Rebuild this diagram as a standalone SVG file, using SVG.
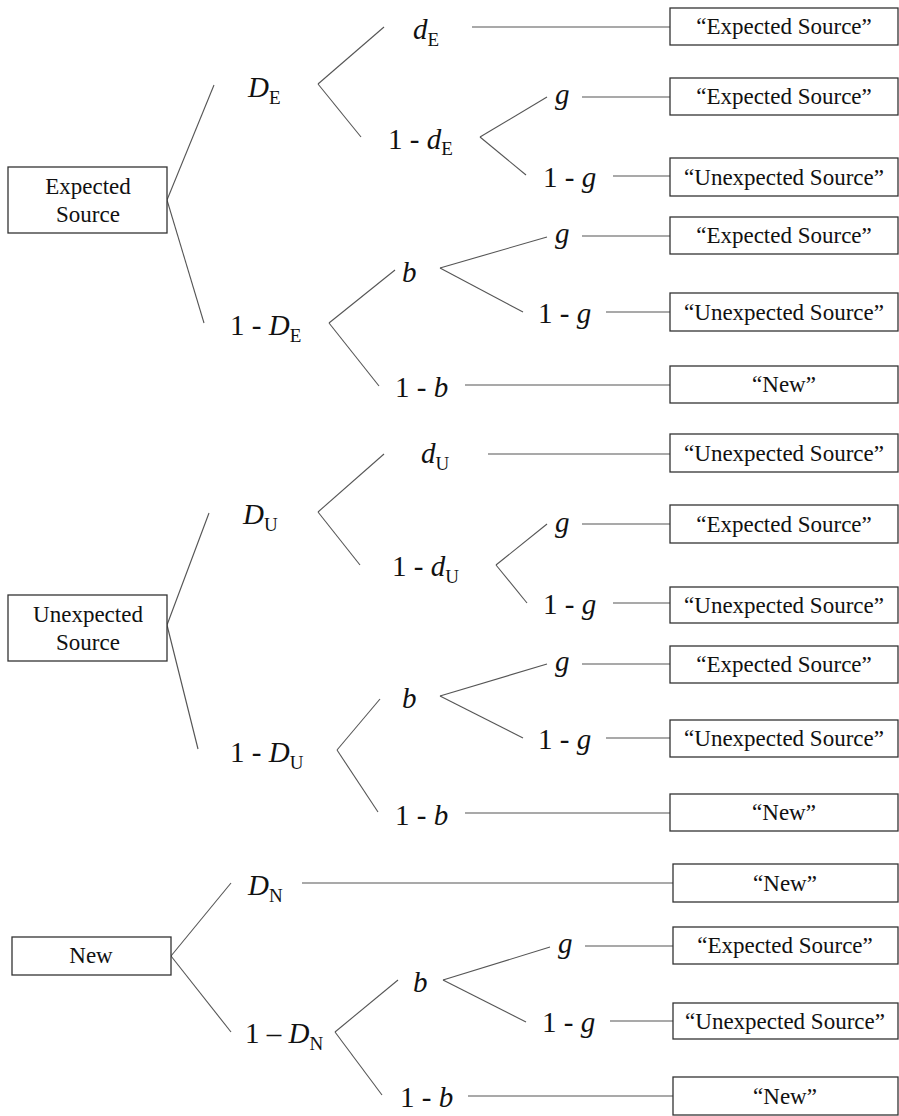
<svg xmlns="http://www.w3.org/2000/svg" width="899" height="1116" viewBox="0 0 899 1116" font-family="Liberation Serif, DejaVu Serif, serif">
<style>
.box{fill:#fff;stroke:#333;stroke-width:1.3}
.bt{font-family:'Liberation Serif','DejaVu Serif',serif;font-size:23px;fill:#111;text-anchor:middle}
.lb{font-family:'Liberation Serif','DejaVu Serif',serif;font-size:29px;fill:#111}
.i{font-style:italic}
.s{font-size:19px}
#connectors line{stroke:#555;stroke-width:1.1}
</style>
<rect width="899" height="1116" fill="#fff"/>
<g id="connectors">
<line x1="167" y1="200" x2="214" y2="85"/>
<line x1="167" y1="200" x2="204" y2="323"/>
<line x1="318" y1="84" x2="384" y2="27"/>
<line x1="318" y1="84" x2="361" y2="137"/>
<line x1="472" y1="27" x2="670" y2="27"/>
<line x1="480" y1="137" x2="547" y2="97"/>
<line x1="480" y1="137" x2="526" y2="175"/>
<line x1="582" y1="97" x2="670" y2="97"/>
<line x1="613" y1="176" x2="670" y2="176"/>
<line x1="329" y1="323" x2="395" y2="270"/>
<line x1="329" y1="323" x2="379" y2="386"/>
<line x1="440" y1="268" x2="547" y2="237"/>
<line x1="440" y1="268" x2="523" y2="312"/>
<line x1="582" y1="236" x2="670" y2="236"/>
<line x1="606" y1="312" x2="670" y2="312"/>
<line x1="465" y1="385" x2="670" y2="385"/>
<line x1="167" y1="625" x2="209" y2="513"/>
<line x1="167" y1="625" x2="198" y2="749"/>
<line x1="318" y1="512" x2="384" y2="454"/>
<line x1="318" y1="512" x2="360" y2="565"/>
<line x1="488" y1="454" x2="670" y2="454"/>
<line x1="496" y1="565" x2="547" y2="524"/>
<line x1="496" y1="565" x2="527" y2="603"/>
<line x1="582" y1="524" x2="670" y2="524"/>
<line x1="613" y1="603" x2="670" y2="603"/>
<line x1="337" y1="750" x2="380" y2="699"/>
<line x1="337" y1="750" x2="378" y2="812"/>
<line x1="440" y1="696" x2="547" y2="664"/>
<line x1="440" y1="696" x2="523" y2="738"/>
<line x1="582" y1="664" x2="670" y2="664"/>
<line x1="606" y1="738" x2="670" y2="738"/>
<line x1="465" y1="813" x2="670" y2="813"/>
<line x1="171" y1="956" x2="231" y2="883"/>
<line x1="171" y1="956" x2="231" y2="1032"/>
<line x1="302" y1="883" x2="673" y2="883"/>
<line x1="335" y1="1032" x2="398" y2="980"/>
<line x1="335" y1="1032" x2="382" y2="1095"/>
<line x1="443" y1="980" x2="550" y2="947"/>
<line x1="443" y1="980" x2="526" y2="1022"/>
<line x1="585" y1="946" x2="673" y2="946"/>
<line x1="610" y1="1021" x2="673" y2="1021"/>
<line x1="468" y1="1096" x2="673" y2="1096"/>
</g>
<g id="root-expected"><rect class="box" x="8" y="167" width="159" height="66"/><text class="bt" x="88" y="194">Expected</text><text class="bt" x="88" y="222">Source</text></g>
<g id="root-unexpected"><rect class="box" x="8" y="595" width="159" height="66"/><text class="bt" x="88" y="622">Unexpected</text><text class="bt" x="88" y="650">Source</text></g>
<g id="root-new"><rect class="box" x="12" y="937" width="159" height="38"/><text class="bt" x="91" y="963">New</text></g>
<g id="lbl-DE"><text class="lb" x="248" y="97"><tspan class="i">D</tspan><tspan class="s" dy="7">E</tspan></text></g>
<g id="lbl-dE"><text class="lb" x="413" y="39"><tspan class="i">d</tspan><tspan class="s" dy="7">E</tspan></text></g>
<g id="lbl-1dE"><text class="lb" x="388" y="149">1 - <tspan class="i">d</tspan><tspan class="s" dy="6">E</tspan></text></g>
<g id="lbl-g1"><text class="lb i" x="555" y="104">g</text></g>
<g id="lbl-1g1"><text class="lb" x="543" y="187">1 - <tspan class="i">g</tspan></text></g>
<g id="lbl-1DE"><text class="lb" x="230" y="335">1 - <tspan class="i">D</tspan><tspan class="s" dy="7">E</tspan></text></g>
<g id="lbl-b1"><text class="lb i" x="402" y="282">b</text></g>
<g id="lbl-g2"><text class="lb i" x="555" y="243">g</text></g>
<g id="lbl-1g2"><text class="lb" x="538" y="323">1 - <tspan class="i">g</tspan></text></g>
<g id="lbl-1b1"><text class="lb" x="395" y="397">1 - <tspan class="i">b</tspan></text></g>
<g id="lbl-DU"><text class="lb" x="243" y="524"><tspan class="i">D</tspan><tspan class="s" dy="7">U</tspan></text></g>
<g id="lbl-dU"><text class="lb" x="421" y="463"><tspan class="i">d</tspan><tspan class="s" dy="7">U</tspan></text></g>
<g id="lbl-1dU"><text class="lb" x="392" y="576">1 - <tspan class="i">d</tspan><tspan class="s" dy="7">U</tspan></text></g>
<g id="lbl-g3"><text class="lb i" x="555" y="532">g</text></g>
<g id="lbl-1g3"><text class="lb" x="543" y="614">1 - <tspan class="i">g</tspan></text></g>
<g id="lbl-1DU"><text class="lb" x="230" y="762">1 - <tspan class="i">D</tspan><tspan class="s" dy="7">U</tspan></text></g>
<g id="lbl-b2"><text class="lb i" x="402" y="708">b</text></g>
<g id="lbl-g4"><text class="lb i" x="555" y="671">g</text></g>
<g id="lbl-1g4"><text class="lb" x="538" y="749">1 - <tspan class="i">g</tspan></text></g>
<g id="lbl-1b2"><text class="lb" x="395" y="825">1 - <tspan class="i">b</tspan></text></g>
<g id="lbl-DN"><text class="lb" x="248" y="895"><tspan class="i">D</tspan><tspan class="s" dy="7">N</tspan></text></g>
<g id="lbl-1DN"><text class="lb" x="245" y="1043">1 – <tspan class="i">D</tspan><tspan class="s" dy="7">N</tspan></text></g>
<g id="lbl-b3"><text class="lb i" x="413" y="992">b</text></g>
<g id="lbl-g5"><text class="lb i" x="558" y="953">g</text></g>
<g id="lbl-1g5"><text class="lb" x="542" y="1032">1 - <tspan class="i">g</tspan></text></g>
<g id="lbl-1b3"><text class="lb" x="400" y="1107">1 - <tspan class="i">b</tspan></text></g>
<g id="out-1"><rect class="box" x="670" y="8" width="228" height="37"/><text class="bt" x="784" y="34">“Expected Source”</text></g>
<g id="out-2"><rect class="box" x="670" y="78" width="228" height="37"/><text class="bt" x="784" y="104">“Expected Source”</text></g>
<g id="out-3"><rect class="box" x="670" y="158" width="228" height="38"/><text class="bt" x="784" y="185">“Unexpected Source”</text></g>
<g id="out-4"><rect class="box" x="670" y="217" width="228" height="37"/><text class="bt" x="784" y="243">“Expected Source”</text></g>
<g id="out-5"><rect class="box" x="670" y="293" width="228" height="38"/><text class="bt" x="784" y="320">“Unexpected Source”</text></g>
<g id="out-6"><rect class="box" x="670" y="366" width="228" height="37"/><text class="bt" x="784" y="392">“New”</text></g>
<g id="out-7"><rect class="box" x="670" y="434" width="228" height="38"/><text class="bt" x="784" y="461">“Unexpected Source”</text></g>
<g id="out-8"><rect class="box" x="670" y="505" width="228" height="38"/><text class="bt" x="784" y="532">“Expected Source”</text></g>
<g id="out-9"><rect class="box" x="670" y="587" width="228" height="36"/><text class="bt" x="784" y="613">“Unexpected Source”</text></g>
<g id="out-10"><rect class="box" x="670" y="646" width="228" height="37"/><text class="bt" x="784" y="672">“Expected Source”</text></g>
<g id="out-11"><rect class="box" x="670" y="720" width="228" height="37"/><text class="bt" x="784" y="746">“Unexpected Source”</text></g>
<g id="out-12"><rect class="box" x="670" y="794" width="228" height="37"/><text class="bt" x="784" y="820">“New”</text></g>
<g id="out-13"><rect class="box" x="673" y="864" width="225" height="38"/><text class="bt" x="785" y="891">“New”</text></g>
<g id="out-14"><rect class="box" x="673" y="927" width="225" height="37"/><text class="bt" x="785" y="953">“Expected Source”</text></g>
<g id="out-15"><rect class="box" x="673" y="1003" width="225" height="36"/><text class="bt" x="785" y="1029">“Unexpected Source”</text></g>
<g id="out-16"><rect class="box" x="673" y="1077" width="225" height="38"/><text class="bt" x="785" y="1104">“New”</text></g>
</svg>
